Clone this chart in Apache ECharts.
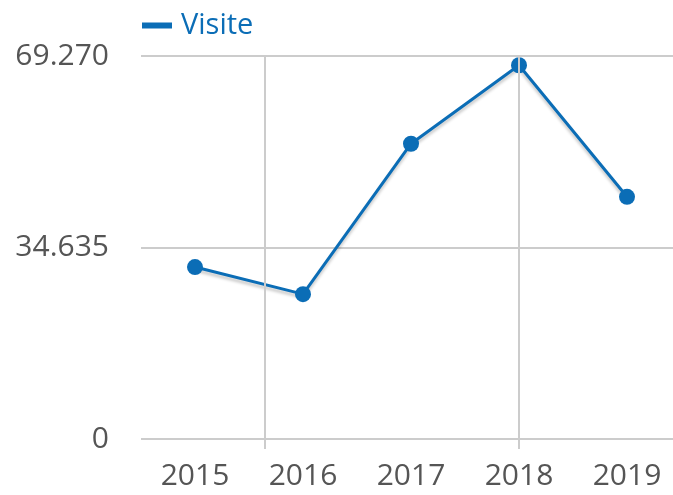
<!DOCTYPE html>
<html>
<head>
<meta charset="utf-8">
<script src="https://cdn.jsdelivr.net/npm/echarts@6/dist/echarts.min.js"></script>
<style>html,body{margin:0;padding:0;background:#fff}#c{width:673px;height:495px}</style>
</head>
<body>
<div id="c"></div>
<script>
const categories = ['2015', '2016', '2017', '2018', '2019'];
const visite = [31100, 26200, 53400, 67600, 43800];
const yTicks = [0, 34635, 69270];
const seriesName = 'Visite';
// vertical guide lines positioned in category units (index space)
const verticalGuides = [0.65, 3];

const blue = '#0b6db6';
const grey = '#cccccc';
const font = 'Open Sans';
const chart = echarts.init(document.getElementById('c'), null, {renderer: 'canvas'});
chart.setOption({
  animation: false,
  backgroundColor: '#fff',
  legend: {
    data: [seriesName],
    left: 137, top: 6,
    icon: 'rect', itemWidth: 30, itemHeight: 6, itemGap: 10,
    textStyle: {color: blue, fontSize: 29, fontFamily: font, padding: [0, 0, 0, 4]}
  },
  grid: {left: 141, top: 56, bottom: 56, width: 540, containLabel: false, outerBoundsMode: 'none'},
  xAxis: [{
    type: 'category', data: categories, boundaryGap: true,
    axisLine: {show: false}, axisTick: {show: false}, splitLine: {show: false},
    axisLabel: {color: '#555', fontSize: 30, fontFamily: font, margin: 22}
  }, {
    type: 'value', min: -0.5, max: 4.5, position: 'bottom',
    axisLine: {show: false}, axisLabel: {show: false},
    axisTick: {show: true, customValues: verticalGuides, length: 10, lineStyle: {color: grey, width: 2}},
    splitLine: {show: false}
  }],
  yAxis: {
    type: 'value', min: yTicks[0], max: yTicks[2], interval: yTicks[1],
    axisLine: {show: false}, axisTick: {show: false},
    axisLabel: {color: '#555', fontSize: 30, fontFamily: font, margin: 32,
      formatter: v => v === 0 ? '0' : (v / 1000).toFixed(3)},
    splitLine: {lineStyle: {color: grey, width: 2}}
  },
  series: [{
    name: 'guides', type: 'line', data: [], xAxisIndex: 1,
    silent: true, z: 1,
    markLine: {
      silent: true, symbol: 'none', label: {show: false},
      lineStyle: {color: grey, width: 2, type: 'solid'},
      data: verticalGuides.map(v => ({xAxis: v}))
    }
  }, {
    name: seriesName, type: 'line', data: visite, xAxisIndex: 0, z: 3,
    symbol: 'circle', symbolSize: 16,
    itemStyle: {color: blue},
    lineStyle: {color: blue, width: 3, shadowColor: 'rgba(0,0,0,0.22)', shadowBlur: 3, shadowOffsetY: 3}
  }]
});
</script>
</body>
</html>
